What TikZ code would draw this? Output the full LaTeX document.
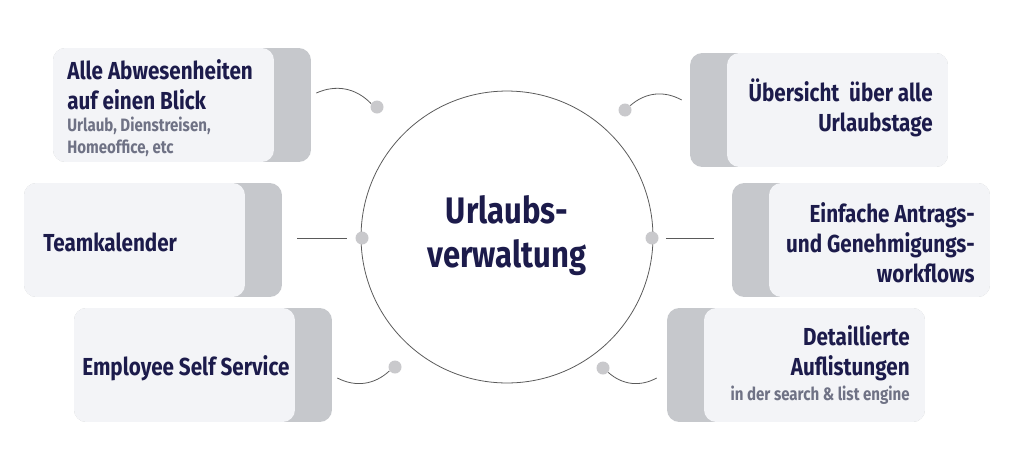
\documentclass[tikz,border=0pt]{standalone}
\usepackage{fontspec}
\setmainfont{Fira Sans}[FakeStretch=0.84]
\usetikzlibrary{positioning}
\usepackage{xcolor}
\definecolor{ctext} {HTML}{1C1B4B}
\definecolor{csub}  {HTML}{6F7285}
\definecolor{cbox}  {HTML}{F3F4F7}
\definecolor{ctab}  {HTML}{C6C8CC}
\definecolor{cline} {HTML}{5A5A5A}
\definecolor{cdot}  {HTML}{C9C9CC}

\begin{document}
\begin{tikzpicture}[
  x=0.02cm, y=-0.02cm,
  card/.style  = {rectangle, rounded corners=7pt, fill=ctab,
                  minimum width=5.16cm, minimum height=2.28cm, inner sep=0pt},
  face/.style  = {rectangle, rounded corners=7pt, fill=cbox,
                  minimum width=4.42cm, minimum height=2.28cm, inner sep=0pt},
  title/.style = {inner sep=0pt, text=ctext,
                  font=\fontsize{14}{17}\selectfont\bfseries},
  sub/.style   = {inner sep=0pt, text=csub,
                  font=\fontsize{10.2}{12.8}\selectfont\bfseries},
  dot/.style   = {circle, fill=cdot, minimum size=0.26cm, inner sep=0pt},
  link/.style  = {draw=cline, line width=0.45pt}
]
\useasboundingbox[fill=white] (0,0) rectangle (1024,474);

%% ── Centre ────────────────────────────────────────────────────────────────
\node[circle, draw=cline, line width=0.45pt, minimum size=5.84cm] (hub) at (507,237) {};
\node[title, font=\fontsize{21}{25}\selectfont\bfseries, align=center] (htxt) at (507,236)
  {Urlaubs-\\verwaltung};

%% ── Cards (left) ──────────────────────────────────────────────────────────
\node[card] (c1) at (182,105) {};
\node[face, anchor=west] (f1) at (c1.west) {};
\node[card] (c2) at (153,240) {};
\node[face, anchor=west] (f2) at (c2.west) {};
\node[card] (c3) at (203,365) {};
\node[face, anchor=west] (f3) at (c3.west) {};

%% ── Cards (right) ─────────────────────────────────────────────────────────
\node[card] (c4) at (819,110) {};
\node[face, anchor=east] (f4) at (c4.east) {};
\node[card] (c5) at (861,240) {};
\node[face, anchor=east] (f5) at (c5.east) {};
\node[card] (c6) at (796,365) {};
\node[face, anchor=east] (f6) at (c6.east) {};

%% ── Texts ─────────────────────────────────────────────────────────────────
\node[title, anchor=west, align=left] (t1) at (67,85) {Alle Abwesenheiten\\auf einen Blick};
\node[sub,   anchor=west, align=left] (s1) at (67,137) {Urlaub, Dienstreisen,\\Homeoffice, etc};
\node[title, anchor=west] (t2) at (43,242) {Teamkalender};
\node[title, anchor=west] (t3) at (82,368) {Employee Self Service};
\node[title, anchor=east, align=right] (t4) at (933,108) {Übersicht\ \ über alle\\Urlaubstage};
\node[title, anchor=east, align=right] (t5) at (975,243) {Einfache Antrags-\\und Genehmigungs-\\workflows};
\node[title, anchor=east, align=right] (t6) at (910,353) {Detaillierte\\Auflistungen};
\node[sub,   anchor=east] (s6) at (910,395) {in der search \& list engine};

%% ── Dots ──────────────────────────────────────────────────────────────────
\node[dot] (d1) at (377,107) {};
\node[dot] (d2) at (362,238) {};
\node[dot] (d3) at (395,367) {};
\node[dot] (d4) at (625,110) {};
\node[dot] (d5) at (652,238) {};
\node[dot] (d6) at (603,368) {};

%% ── Connectors ────────────────────────────────────────────────────────────
\draw[link] ([shift={(5,-12)}]c1.east) to[bend left=35] (d1.150);
\draw[link, shorten <=0.3cm, shorten >=0.16cm] (c2.east |- d2) -- (d2);
\draw[link] ([shift={(5,13)}]c3.east) to[bend right=35] (d3.215);
\draw[link] (d4.40) to[bend left=35] ([shift={(-8,-10)}]c4.west);
\draw[link, shorten <=0.14cm, shorten >=0.36cm] (d5) -- (c5.west |- d5);
\draw[link] (d6.-40) to[bend right=35] ([shift={(-10,13)}]c6.west);

\end{tikzpicture}
\end{document}
